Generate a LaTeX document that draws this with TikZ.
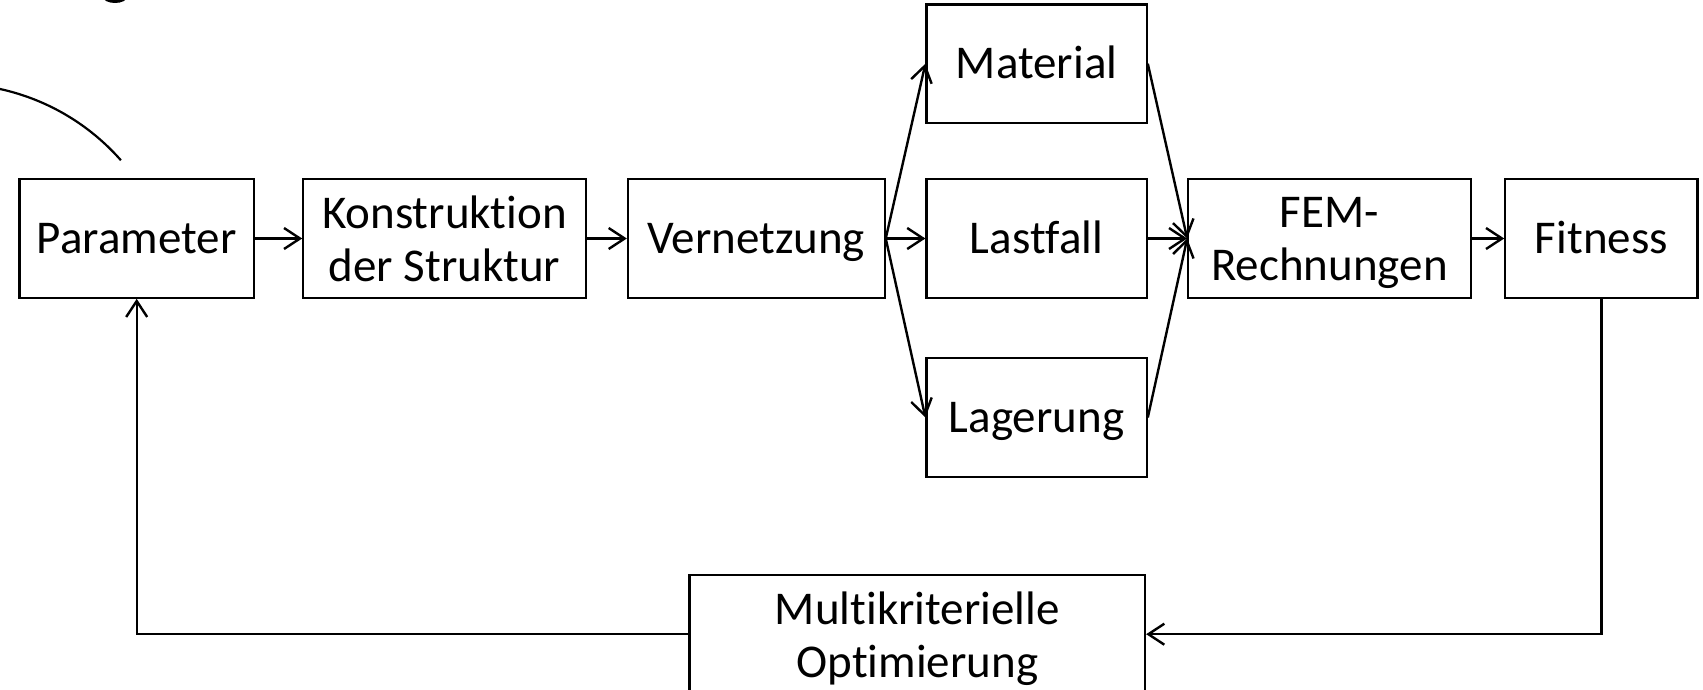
\documentclass[tikz,border=0pt]{standalone}
\usepackage{fontspec}
\setmainfont{Carlito}[Ligatures=NoCommon]
\usetikzlibrary{arrows.meta}
\begin{document}
\begin{tikzpicture}[x=1pt,y=-1pt,
  stepbox/.style={draw, line width=2.2pt, inner sep=0pt, minimum height=118.4pt, align=center,
    font=\fontsize{47}{53}\selectfont, text depth=0pt},
  oneline/.style={text height=30pt},
  conn/.style={line width=2.4pt},
  >={Straight Barb[length=16pt,width=21pt]}]
\useasboundingbox (0,0) rectangle (1703,690);
\clip (0,0) rectangle (1703,690);
\fill[white] (0,0) rectangle (1703,690);

\node[stepbox, oneline, minimum width=234.5pt] (par) at (136.7,238.5) {Parameter};
\node[stepbox, minimum width=282.4pt] (kon) at (444.5,238.5) {Konstruktion\\der Struktur};
\node[stepbox, oneline, minimum width=256.7pt] (ver) at (756.3,238.5) {Vernetzung};
\node[stepbox, oneline, minimum width=220.2pt] (mat) at (1036.6,63.7) {Material};
\node[stepbox, oneline, minimum width=220.2pt] (las) at (1036.6,238.5) {Lastfall};
\node[stepbox, oneline, minimum width=220.2pt] (lag) at (1036.6,417.5) {Lagerung};
\node[stepbox, minimum width=282.4pt] (fem) at (1329.5,238.5) {FEM-\\Rechnungen};
\node[stepbox, oneline, minimum width=192.2pt] (fit) at (1601.4,238.5) {Fitness};
\node[stepbox, minimum width=455.5pt] (mul) at (917.3,634.2) {Multikriterielle\\Optimierung};

\draw[conn,->] (par) -- (kon);
\draw[conn,->] (kon) -- (ver);
\draw[conn,->] (ver.east) -- (mat.west);
\draw[conn,->] (ver.east) -- (las.west);
\draw[conn,->] (ver.east) -- (lag.west);
\draw[conn,->] (mat.east) -- (fem.west);
\draw[conn,->] (las.east) -- (fem.west);
\draw[conn,->] (lag.east) -- (fem.west);
\draw[conn,->] (fem) -- (fit);
\draw[conn,->] (fit.south) -- (fit.south |- mul.east) -- (mul.east);
\draw[conn,->] (mul.west) -- (par.south |- mul.west) -- (par.south);

% partial arc and cropped glyph at the top left
\draw[line width=2.2pt] plot[domain=-80:-41.3, samples=50] ({-48.1+225*cos(\x)}, {308.8+225*sin(\x)});
\fill (115,-3) ellipse [x radius=12pt, y radius=6pt];
\end{tikzpicture}
\end{document}
